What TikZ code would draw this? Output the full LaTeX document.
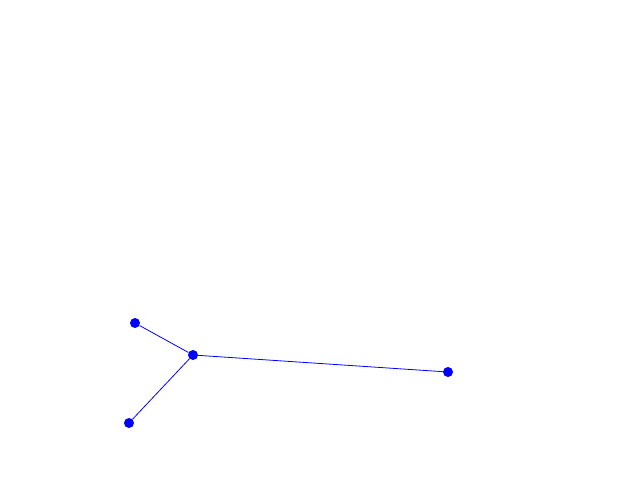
\documentclass[tikz,border=0pt]{standalone}
\begin{document}
\begin{tikzpicture}[x=0.75pt,y=-0.75pt,
  dot/.style={circle,fill=blue,inner sep=0pt,minimum size=7.5pt},
  edge/.style={draw=blue,line width=0.6pt}]
\useasboundingbox (0,0) rectangle (640,480);
\node[dot] (a) at (135,323) {};
\node[dot] (c) at (193,355) {};
\node[dot] (d) at (448,372) {};
\node[dot] (b) at (129,423) {};
\draw[edge] (a) -- (c);
\draw[edge] (c) -- (d);
\draw[edge] (c) -- (b);
\end{tikzpicture}
\end{document}
